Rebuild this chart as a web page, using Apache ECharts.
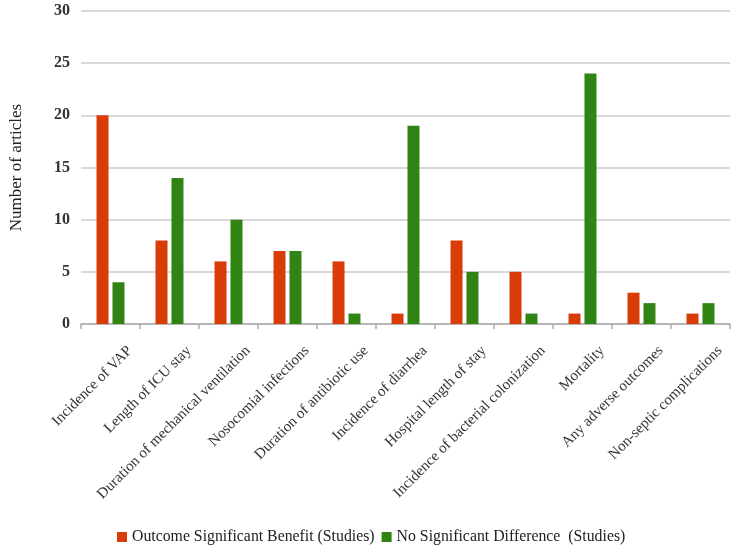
<!DOCTYPE html>
<html>
<head>
<meta charset="utf-8">
<script src="https://cdn.jsdelivr.net/npm/echarts@6/dist/echarts.min.js"></script>
<style>
  html, body { margin: 0; padding: 0; background: #fff; }
  #main { width: 738px; height: 549px; }
</style>
</head>
<body>
<div id="main"></div>
<script>
// categories and values
const categories = [
  'Incidence of VAP',
  'Length of ICU stay',
  'Duration of mechanical ventilation',
  'Nosocomial infections',
  'Duration of antibiotic use',
  'Incidence of diarrhea',
  'Hospital length of stay',
  'Incidence of bacterial colonization',
  'Mortality',
  'Any adverse outcomes',
  'Non-septic complications',
]
const benefit = [20, 8, 6, 7, 6, 1, 8, 5, 1, 3, 1]
const noDifference = [4, 14, 10, 7, 1, 19, 5, 1, 24, 2, 2]
const yTicks = [0, 5, 10, 15, 20, 25, 30]

const font = 'Liberation Serif'
const myChart = echarts.init(document.getElementById('main'))

const option = {
  animation: false,
  textStyle: { fontFamily: font },
  grid: {
    left: 81,
    right: 8,
    top: 11,
    bottom: 225,
  },
  legend: {
    left: 112,
    top: 524,
    itemWidth: 10,
    itemHeight: 10,
    itemGap: 7,
    icon: 'rect',
    textStyle: { fontFamily: font, fontSize: 15.8, color: '#222' },
    data: ['Outcome Significant Benefit (Studies)', 'No Significant Difference  (Studies)'],
  },
  xAxis: {
    type: 'category',
    data: categories,
    axisLine: { lineStyle: { color: '#aaa', width: 1.5 } },
    axisTick: { show: true, length: 5, lineStyle: { color: '#aaa', width: 1.5 } },
    axisLabel: {
      interval: 0,
      rotate: 45,
      margin: 5,
      verticalAlign: 'top',
      padding: [20, 0, 0, 0],
      fontFamily: font,
      fontSize: 15,
      color: '#333',
    },
  },
  yAxis: {
    type: 'value',
    min: yTicks[0],
    max: yTicks[yTicks.length - 1],
    interval: 5,
    name: 'Number of articles',
    nameLocation: 'middle',
    nameGap: 56,
    nameTextStyle: { fontFamily: font, fontSize: 17, color: '#222' },
    axisLine: { show: false },
    axisTick: { show: false },
    axisLabel: {
      margin: 11,
      fontFamily: font,
      fontSize: 16,
      fontWeight: 'bold',
      color: '#333',
    },
    splitLine: { lineStyle: { color: '#ccc', width: 1.5 } },
  },
  series: [
    {
      name: 'Outcome Significant Benefit (Studies)',
      type: 'bar',
      data: benefit,
      barWidth: 12,
      barGap: '33%',
      itemStyle: { color: '#da3c08' },
    },
    {
      name: 'No Significant Difference  (Studies)',
      type: 'bar',
      data: noDifference,
      barWidth: 12,
      itemStyle: { color: '#2f8413' },
    },
  ],
}
myChart.setOption(option)
</script>
</body>
</html>
